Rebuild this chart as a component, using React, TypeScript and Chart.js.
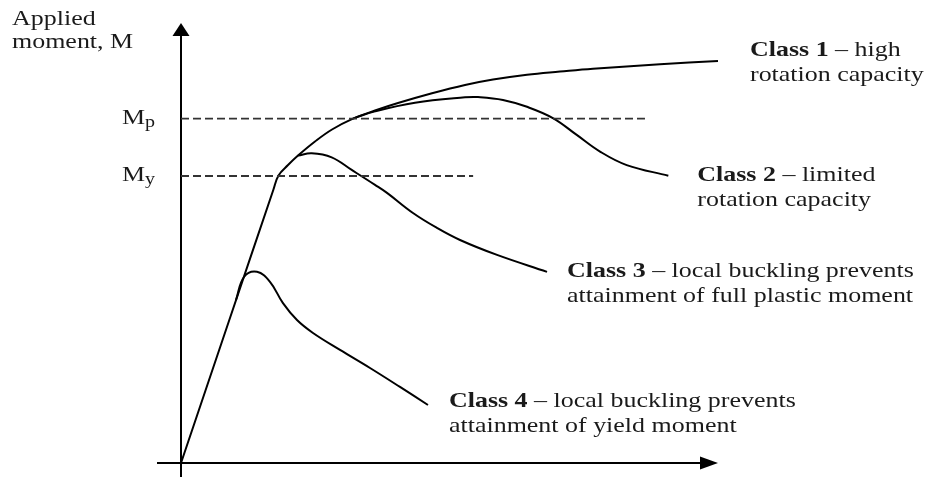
import React, { useEffect, useRef } from 'react';
import { Chart, registerables } from 'chart.js';

Chart.register(...registerables);

// Rotation (x) in arbitrary units, moment (y) normalised so that My = 1
const class1Rotation = [0, 9.12, 17.2, 18.16, 19.93, 21.79, 24.95, 28.12, 32.03, 36.13, 40.41, 46.74, 52.89, 58.1, 64.43, 70.58, 76.72, 89.2, 100];
const class1Moment = [0, 0.505, 0.952, 1.002, 1.038, 1.071, 1.12, 1.162, 1.2, 1.228, 1.254, 1.288, 1.317, 1.336, 1.353, 1.364, 1.374, 1.389, 1.401];

const class2Rotation = [32.03, 36.13, 43.58, 52.89, 55.31, 59.96, 64.43, 69.33, 73.69, 78.03, 83.0, 90.75];
const class2Moment = [1.2, 1.225, 1.255, 1.274, 1.275, 1.265, 1.241, 1.201, 1.143, 1.085, 1.038, 1.001];

const class3Rotation = [21.79, 24.34, 28.06, 31.79, 36.13, 38.36, 43.2, 47.67, 51.96, 58.85, 68.16];
const class3Moment = [1.071, 1.079, 1.065, 1.021, 0.969, 0.941, 0.871, 0.819, 0.777, 0.725, 0.666];

const class4Rotation = [10.24, 11.73, 14.15, 16.57, 18.99, 21.6, 24.58, 29.61, 35.2, 40.78, 45.99];
const class4Moment = [0.568, 0.648, 0.666, 0.631, 0.557, 0.498, 0.453, 0.394, 0.331, 0.265, 0.202];

const refMoments = [1.2, 1.0];
const refLineEnds = [86.4, 54.4];
const refMain = ['M', 'M'];
const refSub = ['p', 'y'];

const axisTitle = ['Applied', 'moment, M'];

const classBold = ['Class 1', 'Class 2', 'Class 3', 'Class 4'];
const classRest = [' \u2013 high', ' \u2013 limited', ' \u2013 local buckling prevents', ' \u2013 local buckling prevents'];
const classLine2 = ['rotation capacity', 'rotation capacity', 'attainment of full plastic moment', 'attainment of yield moment'];

const toPoints = (xs: number[], ys: number[]) => xs.map((x, i) => ({ x, y: ys[i] }));

const FONT = '"Liberation Serif", "Times New Roman", serif';
const SX = 1.18;

function drawStretched(ctx: CanvasRenderingContext2D, text: string, x: number, y: number, font: string) {
  ctx.save();
  ctx.font = font;
  const w = ctx.measureText(text).width * SX;
  ctx.translate(x, y);
  ctx.scale(SX, 1);
  ctx.fillText(text, 0, 0);
  ctx.restore();
  return w;
}

const schematicPlugin = {
  id: 'schematic',
  beforeDatasetsDraw(chart: any) {
    const { ctx, chartArea, scales } = chart;
    const x0 = scales.x.getPixelForValue(0);
    const y0 = scales.y.getPixelForValue(0);
    ctx.save();
    ctx.strokeStyle = '#000';
    ctx.fillStyle = '#000';
    ctx.lineWidth = 2;
    ctx.beginPath();
    ctx.moveTo(x0, chartArea.bottom);
    ctx.lineTo(x0, chartArea.top + 10);
    ctx.stroke();
    ctx.beginPath();
    ctx.moveTo(x0, chartArea.top);
    ctx.lineTo(x0 - 8.5, chartArea.top + 13);
    ctx.lineTo(x0 + 8.5, chartArea.top + 13);
    ctx.closePath();
    ctx.fill();
    ctx.beginPath();
    ctx.moveTo(chartArea.left, y0);
    ctx.lineTo(chartArea.right - 10, y0);
    ctx.stroke();
    ctx.beginPath();
    ctx.moveTo(chartArea.right, y0);
    ctx.lineTo(chartArea.right - 18, y0 - 6.5);
    ctx.lineTo(chartArea.right - 18, y0 + 6.5);
    ctx.closePath();
    ctx.fill();
    ctx.restore();
  },
  afterDraw(chart: any) {
    const { ctx, chartArea, scales } = chart;
    const x0 = scales.x.getPixelForValue(0);
    ctx.save();
    ctx.fillStyle = '#1a1a1a';
    ctx.textBaseline = 'alphabetic';
    ctx.textAlign = 'left';
    drawStretched(ctx, axisTitle[0], 12, chartArea.top + 2, `22px ${FONT}`);
    drawStretched(ctx, axisTitle[1], 12, chartArea.top + 25, `22px ${FONT}`);
    refMoments.forEach((m, i) => {
      const py = scales.y.getPixelForValue(m);
      const w = drawStretched(ctx, refMain[i], x0 - 59, py + 5, `22px ${FONT}`);
      drawStretched(ctx, refSub[i], x0 - 59 + w, py + 8, `17px ${FONT}`);
    });
    const ends = [
      [class1Rotation, class1Moment, 32, -5],
      [class2Rotation, class2Moment, 29, 5],
      [class3Rotation, class3Moment, 20, 5],
      [class4Rotation, class4Moment, 21, 2],
    ] as const;
    ends.forEach(([xs, ys, dx, dy], i) => {
      const px = scales.x.getPixelForValue(xs[xs.length - 1]) + dx;
      const py = scales.y.getPixelForValue(ys[ys.length - 1]) + dy;
      const w = drawStretched(ctx, classBold[i], px, py, `bold 22px ${FONT}`);
      drawStretched(ctx, classRest[i], px + w, py, `22px ${FONT}`);
      drawStretched(ctx, classLine2[i], px, py + 25, `22px ${FONT}`);
    });
    ctx.restore();
  },
};

export default function App() {
  const canvasRef = useRef<HTMLCanvasElement | null>(null);

  useEffect(() => {
    const canvas = canvasRef.current;
    if (!canvas) return;
    let chart: Chart | null = null;
    let cancelled = false;
    const curve = (xs: number[], ys: number[]) => ({
      data: toPoints(xs, ys),
      borderColor: '#000',
      borderWidth: 2,
      pointRadius: 0,
      fill: false,
      tension: 0.4,
      clip: false as const,
    });
    const dashed = (i: number) => ({
      data: [
        { x: 0, y: refMoments[i] },
        { x: refLineEnds[i], y: refMoments[i] },
      ],
      borderColor: '#333',
      borderWidth: 1.8,
      borderDash: [8, 4],
      pointRadius: 0,
      fill: false,
      tension: 0,
      clip: false as const,
    });
    const build = () => {
      if (cancelled) return;
      chart = new Chart(canvas, {
        type: 'line',
        data: {
          datasets: [
            dashed(0),
            dashed(1),
            curve(class1Rotation, class1Moment),
            curve(class2Rotation, class2Moment),
            curve(class3Rotation, class3Moment),
            curve(class4Rotation, class4Moment),
          ],
        },
        options: {
          animation: false,
          responsive: false,
          devicePixelRatio: 1,
          layout: { padding: { left: 157, right: 220, top: 23, bottom: 0 } },
          scales: {
            x: { type: 'linear', min: -4.47, max: 100, display: false },
            y: { type: 'linear', min: -0.0488, max: 1.533, display: false },
          },
          plugins: { legend: { display: false }, tooltip: { enabled: false } },
          events: [],
        },
        plugins: [schematicPlugin],
      });
    };
    const fonts = (document as any).fonts;
    if (fonts && fonts.load) {
      Promise.all([
        fonts.load('22px "Liberation Serif"'),
        fonts.load('bold 22px "Liberation Serif"'),
      ]).then(build, build);
    } else {
      build();
    }
    return () => {
      cancelled = true;
      if (chart) chart.destroy();
    };
  }, []);

  return (
    <div style={{ position: 'fixed', left: 0, top: 0, width: 938, height: 477, background: '#fff' }}>
      <canvas ref={canvasRef} width={938} height={477} style={{ display: 'block' }} />
    </div>
  );
}
